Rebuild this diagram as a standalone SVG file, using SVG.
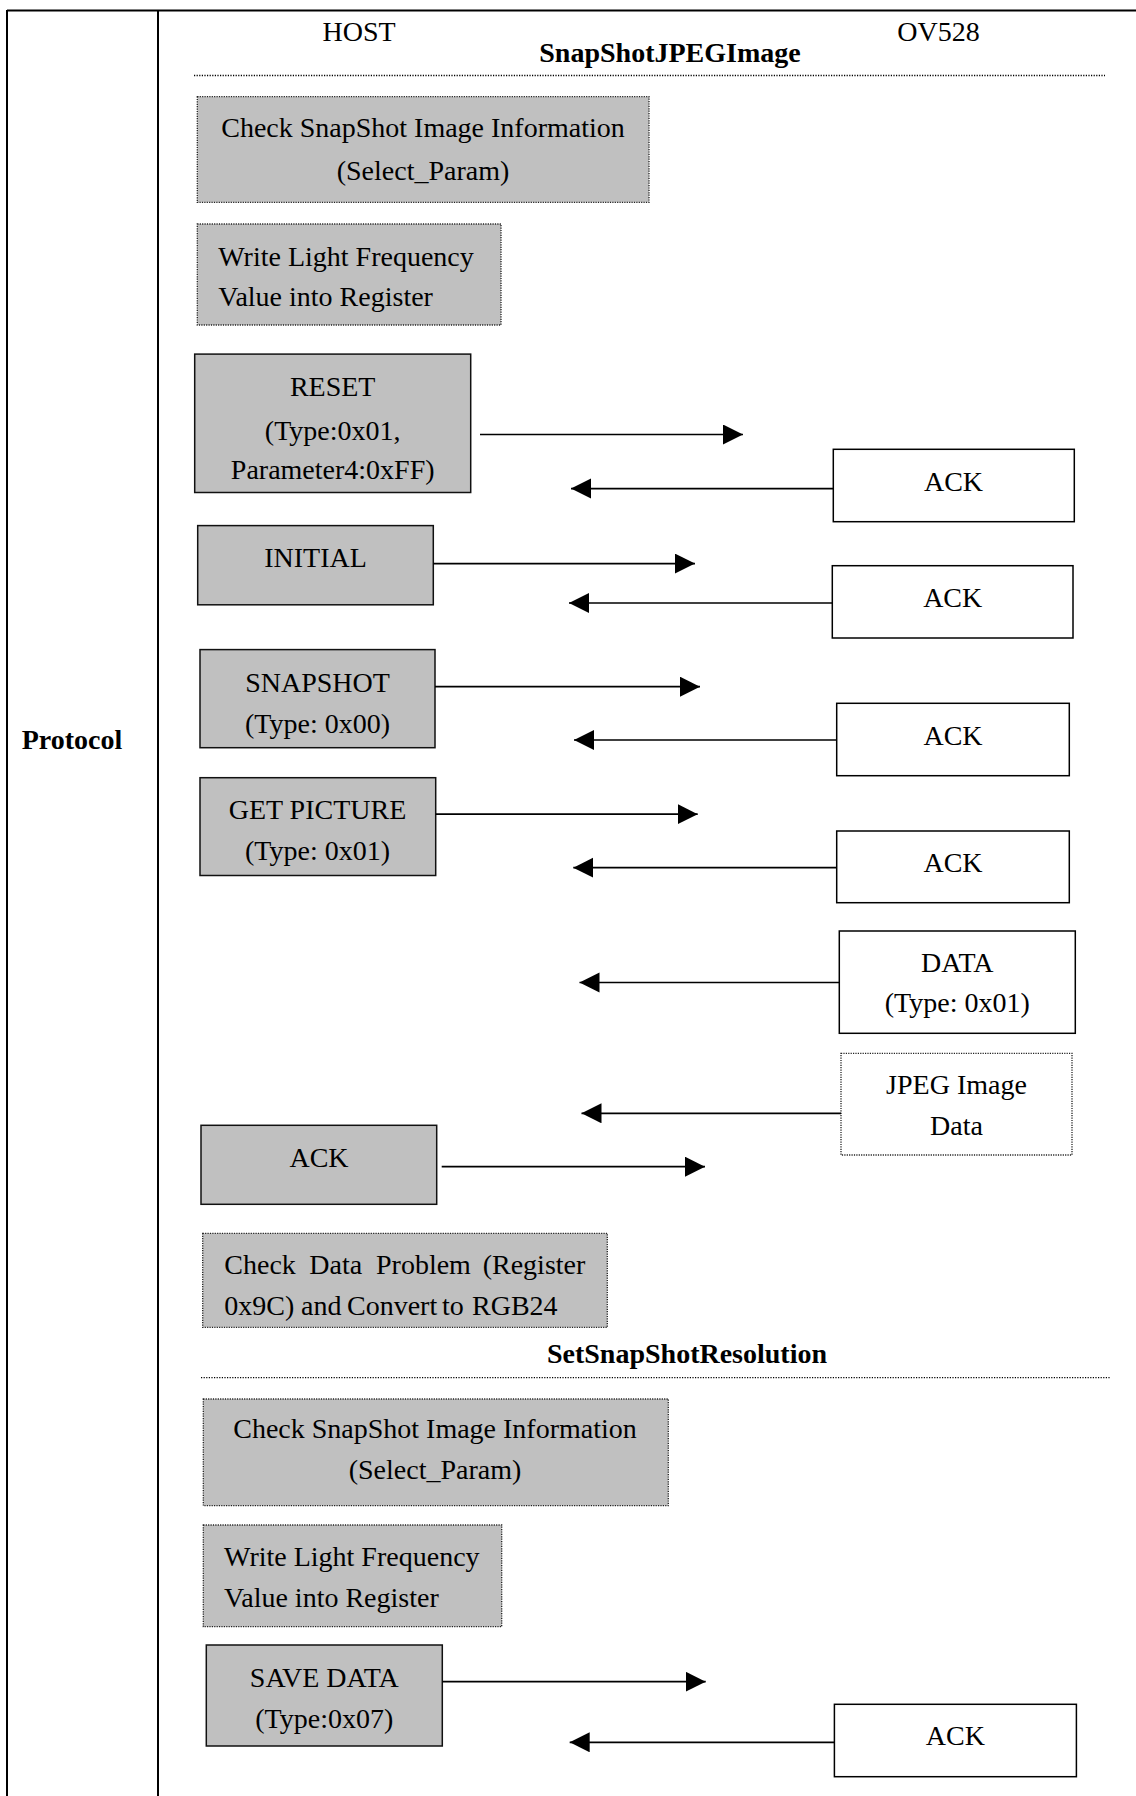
<svg xmlns="http://www.w3.org/2000/svg" width="1136" height="1796" viewBox="0 0 1136 1796">
  <style>
    text { font-family: "Liberation Serif", "Times New Roman", serif; font-size: 28px; fill: #000; }
    .c { text-anchor: middle; }
    .b { font-weight: bold; }
    .frame { stroke: #000; stroke-width: 2; fill: none; }
    .sep { stroke: #000; stroke-width: 1.3; stroke-dasharray: 1.2 1.4; fill: none; }
    .host { fill: #c0c0c0; stroke: #111; stroke-width: 1.5; }
    .hostdot { fill: #c0c0c0; stroke: #222; stroke-width: 1.3; stroke-dasharray: 1.2 1.2; }
    .dev { fill: #fff; stroke: #000; stroke-width: 1.5; }
    .devdot { fill: #fff; stroke: #222; stroke-width: 1.3; stroke-dasharray: 1.2 1.2; }
    .msg { stroke: #000; stroke-width: 1.7; fill: none; marker-end: url(#head); }
  </style>
  <defs>
    <marker id="head" markerUnits="userSpaceOnUse" markerWidth="21" markerHeight="21" refX="20" refY="10" orient="auto">
      <path d="M0,0 L20,10 L0,20 z" fill="#000"/>
    </marker>
  </defs>

  <rect width="1136" height="1796" fill="#fff"/>

  <!-- table frame -->
  <g id="frame">
    <line class="frame" x1="7" y1="10.5" x2="1136" y2="10.5"/>
    <line class="frame" x1="7" y1="10" x2="7" y2="1796"/>
    <line class="frame" x1="158" y1="10" x2="158" y2="1796"/>
    <text class="b c" x="72" y="749">Protocol</text>
  </g>

  <!-- headings and section separators -->
  <g id="headings">
    <text class="c" x="359" y="40.7">HOST</text>
    <text class="c" x="938.5" y="40.7">OV528</text>
    <text class="b c" x="670" y="61.7">SnapShotJPEGImage</text>
    <line class="sep" x1="194" y1="75.5" x2="1105" y2="75.5"/>
    <text class="b c" x="687" y="1363.3">SetSnapShotResolution</text>
    <line class="sep" x1="201" y1="1377.7" x2="1110" y2="1377.7"/>
  </g>

  <!-- SnapShotJPEGImage sequence -->
  <g id="check-info-1">
    <rect class="hostdot" x="197.3" y="96.7" width="451.7" height="105.6"/>
    <text class="c" x="423" y="136.7">Check SnapShot Image Information</text>
    <text class="c" x="423" y="180">(Select_Param)</text>
  </g>
  <g id="write-freq-1">
    <rect class="hostdot" x="197.3" y="224" width="303.7" height="101"/>
    <text x="218.3" y="265.5">Write Light Frequency</text>
    <text x="218.3" y="306">Value into Register</text>
  </g>
  <g id="reset">
    <rect class="host" x="194.7" y="354.1" width="276" height="138.4"/>
    <text class="c" x="332.7" y="396.1">RESET</text>
    <text class="c" x="332.7" y="439.5">(Type:0x01,</text>
    <text class="c" x="332.7" y="478.8">Parameter4:0xFF)</text>
  </g>
  <g id="ack-reset">
    <rect class="dev" x="833.3" y="449.3" width="241" height="72.4"/>
    <text class="c" x="953.5" y="490.7">ACK</text>
  </g>
  <g id="initial">
    <rect class="host" x="197.7" y="525.6" width="235.6" height="79.2"/>
    <text class="c" x="315.5" y="567">INITIAL</text>
  </g>
  <g id="ack-initial">
    <rect class="dev" x="832.3" y="565.7" width="240.7" height="72.3"/>
    <text class="c" x="952.7" y="606.7">ACK</text>
  </g>
  <g id="snapshot">
    <rect class="host" x="200" y="649.6" width="235" height="98.1"/>
    <text class="c" x="317.5" y="692.3">SNAPSHOT</text>
    <text class="c" x="317.5" y="732.9">(Type: 0x00)</text>
  </g>
  <g id="ack-snapshot">
    <rect class="dev" x="836.7" y="703.3" width="232.6" height="72.4"/>
    <text class="c" x="953" y="745">ACK</text>
  </g>
  <g id="get-picture">
    <rect class="host" x="200" y="777.7" width="235.7" height="97.8"/>
    <text class="c" x="317.5" y="819">GET PICTURE</text>
    <text class="c" x="317.5" y="860.3">(Type: 0x01)</text>
  </g>
  <g id="ack-get-picture">
    <rect class="dev" x="836.7" y="831" width="232.6" height="71.7"/>
    <text class="c" x="953" y="871.7">ACK</text>
  </g>
  <g id="data">
    <rect class="dev" x="839.3" y="931" width="236" height="102.3"/>
    <text class="c" x="957.3" y="972.3">DATA</text>
    <text class="c" x="957.3" y="1012.3">(Type: 0x01)</text>
  </g>
  <g id="jpeg-data">
    <rect class="devdot" x="841" y="1053.3" width="231" height="101.7"/>
    <text class="c" x="956.5" y="1094.3">JPEG Image</text>
    <text class="c" x="956.5" y="1135">Data</text>
  </g>
  <g id="ack-host">
    <rect class="host" x="201" y="1125.3" width="235.7" height="79"/>
    <text class="c" x="319" y="1166.7">ACK</text>
  </g>
  <g id="check-data">
    <rect class="hostdot" x="202.7" y="1233.3" width="404.6" height="94"/>
    <text y="1274.3"><tspan x="224.3">Check</tspan><tspan x="309.3">Data</tspan><tspan x="376">Problem</tspan><tspan x="482.7">(Register</tspan></text>
    <text y="1315"><tspan x="224.3">0x9C)</tspan><tspan x="301">and</tspan><tspan x="347">Convert</tspan><tspan x="442">to</tspan><tspan x="472">RGB24</tspan></text>
  </g>

  <!-- SetSnapShotResolution sequence -->
  <g id="check-info-2">
    <rect class="hostdot" x="203.3" y="1399" width="465" height="106.7"/>
    <text class="c" x="435" y="1438.3">Check SnapShot Image Information</text>
    <text class="c" x="435" y="1479.3">(Select_Param)</text>
  </g>
  <g id="write-freq-2">
    <rect class="hostdot" x="203.3" y="1525" width="298.4" height="101.7"/>
    <text x="224.1" y="1566">Write Light Frequency</text>
    <text x="224.1" y="1606.7">Value into Register</text>
  </g>
  <g id="save-data">
    <rect class="host" x="206.3" y="1645" width="236" height="101"/>
    <text class="c" x="324.3" y="1686.7">SAVE DATA</text>
    <text class="c" x="324.3" y="1728.3">(Type:0x07)</text>
  </g>
  <g id="ack-save-data">
    <rect class="dev" x="834.4" y="1704.3" width="242" height="72.4"/>
    <text class="c" x="955.4" y="1745">ACK</text>
  </g>

  <!-- messages between HOST and OV528 -->
  <g id="connectors">
    <line class="msg" x1="480" y1="434.5" x2="743" y2="434.5"/>
    <line class="msg" x1="833.3" y1="488.6" x2="571" y2="488.6"/>
    <line class="msg" x1="433.3" y1="563.6" x2="695" y2="563.6"/>
    <line class="msg" x1="832.3" y1="603" x2="569" y2="603"/>
    <line class="msg" x1="435" y1="686.7" x2="700" y2="686.7"/>
    <line class="msg" x1="836.7" y1="740" x2="574" y2="740"/>
    <line class="msg" x1="435.7" y1="814.2" x2="697.7" y2="814.2"/>
    <line class="msg" x1="836.7" y1="867.7" x2="573.3" y2="867.7"/>
    <line class="msg" x1="839.3" y1="982.5" x2="579.5" y2="982.5"/>
    <line class="msg" x1="841" y1="1113.3" x2="581.5" y2="1113.3"/>
    <line class="msg" x1="441.7" y1="1166.7" x2="705" y2="1166.7"/>
    <line class="msg" x1="442.3" y1="1681.7" x2="705.7" y2="1681.7"/>
    <line class="msg" x1="834.4" y1="1742.3" x2="569.7" y2="1742.3"/>
  </g>
</svg>
